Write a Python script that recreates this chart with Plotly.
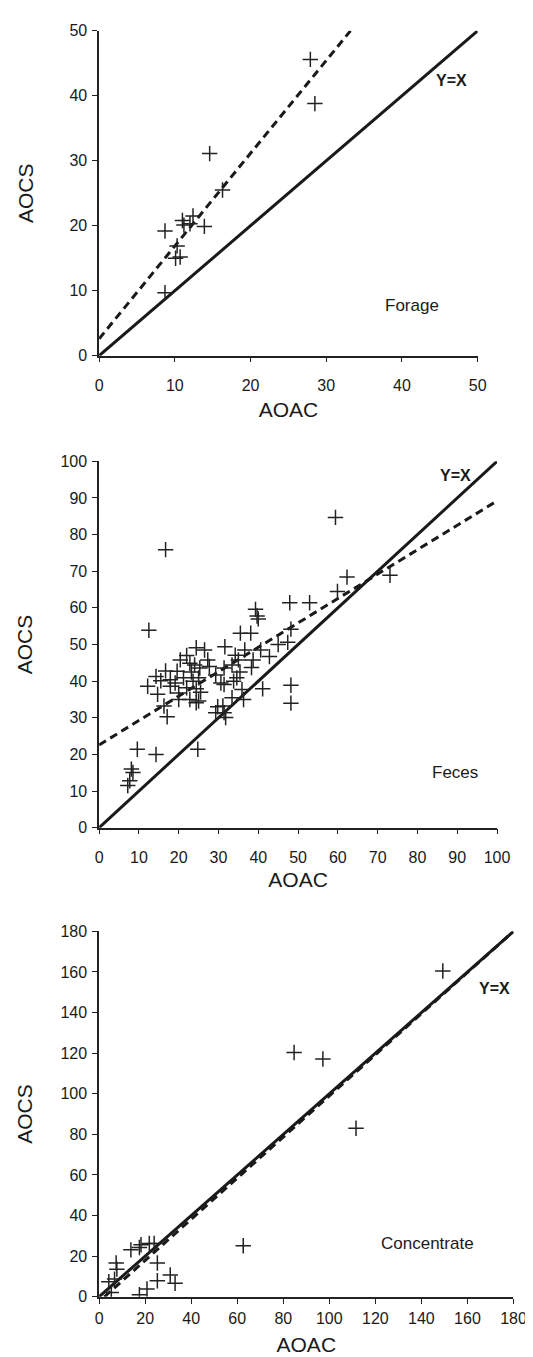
import plotly.graph_objects as go

# Forage: AOAC vs AOCS
forage_aoac = [27.9, 28.5, 14.6, 16.3, 8.7, 11.0, 12.4, 11.2, 12.0, 13.9, 10.3, 10.1, 10.7, 8.7]
forage_aocs = [45.6, 38.8, 31.1, 25.5, 19.2, 20.8, 21.5, 20.1, 20.3, 19.9, 16.9, 15.0, 15.2, 9.7]

# Feces
feces_aoac = [59.4, 16.7, 62.3, 73.1, 59.9, 47.9, 52.9, 39.3, 39.7, 40.0, 12.5, 48.2, 35.5, 38.1,
              45.0, 47.4, 24.4, 26.5, 31.6, 36.6, 40.6, 42.8, 22.0, 20.4, 34.2, 35.0, 38.7, 22.8,
              24.0, 25.3, 27.3, 27.7, 16.7, 19.6, 23.2, 31.4, 33.4, 38.3, 35.4, 14.3, 15.5, 17.9,
              19.1, 21.2, 23.6, 25.0, 29.3, 30.6, 31.4, 33.8, 34.6, 12.2, 17.9, 22.0, 24.4, 25.5,
              41.1, 35.9, 48.2, 14.7, 20.0, 20.0, 22.8, 25.0, 33.4, 36.3, 16.3, 24.4, 29.8, 31.1,
              31.4, 29.3, 17.1, 31.8, 48.2, 9.6, 14.3, 24.8, 8.1, 8.5, 7.7, 7.2]
feces_aocs = [84.7, 75.9, 68.4, 68.9, 64.5, 61.4, 61.4, 59.6, 57.8, 57.0, 53.9, 54.2, 53.1, 53.1,
              50.0, 50.6, 49.1, 48.5, 49.4, 48.5, 48.5, 46.7, 47.0, 45.8, 47.1, 45.8, 45.8, 44.9,
              44.4, 43.6, 45.8, 44.0, 42.8, 42.7, 42.5, 43.6, 44.4, 43.7, 42.5, 41.3, 40.1, 40.4,
              39.5, 40.9, 40.0, 40.9, 41.7, 39.5, 39.1, 40.0, 40.9, 38.6, 38.6, 38.2, 37.9, 37.0,
              37.9, 37.7, 38.9, 36.4, 36.8, 35.0, 35.0, 34.6, 35.5, 35.0, 33.2, 34.1, 33.0, 33.2,
              31.4, 31.4, 30.3, 30.1, 34.0, 21.4, 20.0, 21.4, 16.0, 15.1, 12.8, 11.5]

# Concentrate
conc_aoac = [149.3, 84.7, 97.2, 111.6, 62.6, 13.8, 17.5, 18.2, 21.8, 23.9, 25.3, 7.4, 7.7, 30.9,
             33.0, 25.3, 4.2, 6.7, 5.3, 17.5, 20.8]
conc_aocs = [160.5, 120.3, 117.1, 83.0, 25.1, 23.1, 24.3, 25.6, 26.2, 26.2, 16.6, 16.6, 13.6, 10.7,
             6.6, 7.9, 7.4, 8.7, 2.1, 1.0, 3.8]

# regression (dashed) line end points for each panel
forage_fit_x = [0, 33.2]
forage_fit_y = [2.6, 50]
feces_fit_x = [0, 100]
feces_fit_y = [22.6, 89.2]
conc_fit_x = [2.3, 180]
conc_fit_y = [0, 180]

axis_max = [50, 100, 180]
tick_step = [10, 10, 20]
panel_names = ["Forage", "Feces", "Concentrate"]

FONT = "Liberation Sans, Arial, sans-serif"
INK = "#1a1a1a"

fig = go.Figure()

panels = [
    (forage_aoac, forage_aocs, forage_fit_x, forage_fit_y),
    (feces_aoac, feces_aocs, feces_fit_x, feces_fit_y),
    (conc_aoac, conc_aocs, conc_fit_x, conc_fit_y),
]
for i, (px_, py_, fx, fy) in enumerate(panels):
    xa = "x" if i == 0 else "x%d" % (i + 1)
    ya = "y" if i == 0 else "y%d" % (i + 1)
    top = axis_max[i]
    # Y=X reference line
    fig.add_trace(go.Scatter(x=[0, top], y=[0, top], mode="lines", xaxis=xa, yaxis=ya,
                             line=dict(color=INK, width=3), showlegend=False))
    fig.add_trace(go.Scatter(x=fx, y=fy, mode="lines", xaxis=xa, yaxis=ya,
                             line=dict(color=INK, width=3, dash="8px,5px"), showlegend=False))
    fig.add_trace(go.Scatter(x=px_, y=py_, mode="markers", xaxis=xa, yaxis=ya, showlegend=False,
                             marker=dict(symbol="cross-thin", size=11,
                                         line=dict(color="#222", width=1.5))))

# pixel boxes of each plot area (left, right, top, bottom) in a 533x1357 page
W, H = 533, 1357
boxes = [(90, 481, 15, 344), (90, 501, 451, 822), (90, 518, 927, 1297)]
y_standoff = [30, 22, 22]
x_label_pad = [9, 9, 1]
x_title_standoff = [10, 8, 12]
yx_pos = [(46.5, 42.4), (89.6, 96.1), (171.6, 151.8)]
name_pos = [(41.3, 7.7), (89.5, 15.0), (142.5, 26.4)]

layout = dict(width=W, height=H, margin=dict(l=0, r=0, t=0, b=0),
              paper_bgcolor="white", plot_bgcolor="white",
              font=dict(family=FONT, color=INK))
annotations = []
for i in range(3):
    l, r, t, b = boxes[i]
    suffix = "" if i == 0 else str(i + 1)
    common = dict(showgrid=False, zeroline=False, showline=True, linecolor="#222", linewidth=1.5,
                  ticks="outside", ticklen=5, tickwidth=1.2, tickcolor="#222",
                  tickfont=dict(size=16, family=FONT, color=INK),
                  range=[0, axis_max[i]], dtick=tick_step[i], tick0=0)
    layout["xaxis" + suffix] = dict(common, domain=[l / W, r / W], anchor="y" + suffix,
                                    ticklabelstandoff=x_label_pad[i],
                                    title=dict(text="AOAC", font=dict(size=21, family=FONT),
                                               standoff=x_title_standoff[i]))
    layout["yaxis" + suffix] = dict(common, domain=[1 - b / H, 1 - t / H], anchor="x" + suffix,
                                    ticklabelstandoff=2,
                                    title=dict(text="AOCS", font=dict(size=21, family=FONT),
                                               standoff=y_standoff[i]))
    annotations.append(dict(x=yx_pos[i][0], y=yx_pos[i][1], xref="x" + suffix, yref="y" + suffix,
                            text="<b>Y=X</b>", showarrow=False, font=dict(size=16, family=FONT)))
    annotations.append(dict(x=name_pos[i][0], y=name_pos[i][1], xref="x" + suffix, yref="y" + suffix,
                            text=panel_names[i], showarrow=False, font=dict(size=17, family=FONT)))

layout["annotations"] = annotations
fig.update_layout(**layout)

fig.write_html("out.html")
